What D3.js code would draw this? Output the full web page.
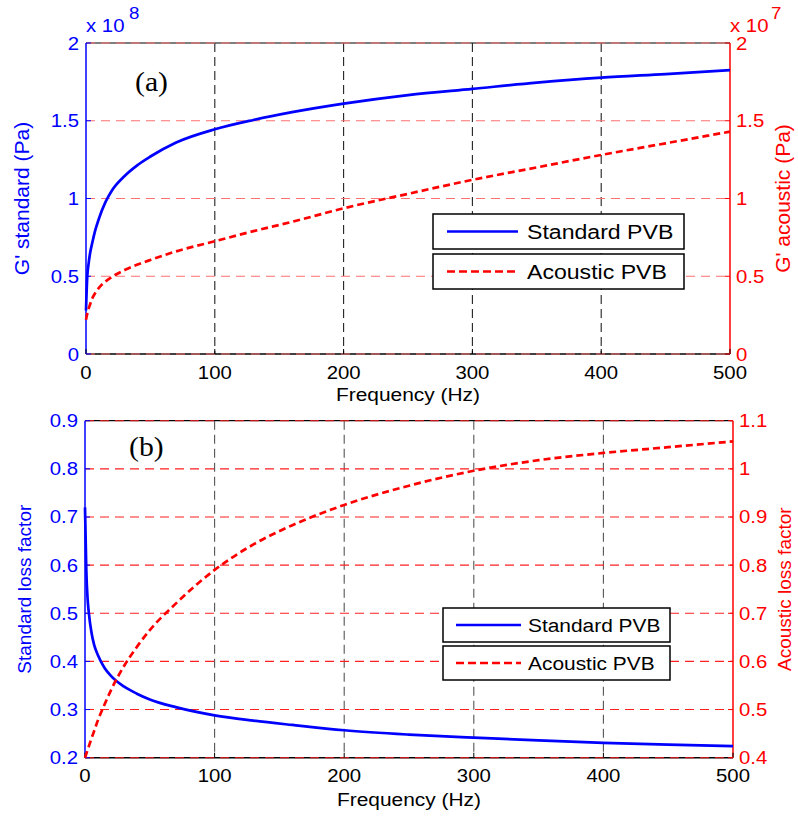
<!DOCTYPE html>
<html><head><meta charset="utf-8">
<script src="https://cdn.jsdelivr.net/npm/d3@7"></script>
<style>body{margin:0;background:#fff}svg{display:block}</style>
</head><body>
<svg id="c" width="798" height="816"></svg>
<script>
// ---------- data ----------
const freq = [0, 1, 2, 3, 5, 7, 10, 15, 20, 30, 40, 50, 70, 100, 130, 160, 200, 250, 300, 350, 400, 450, 500];
// panel (a): storage modulus, standard in units of 1e8 Pa, acoustic in units of 1e7 Pa
const gStandard = [0.28, 0.50, 0.58, 0.64, 0.72, 0.79, 0.87, 0.975, 1.05, 1.145, 1.215, 1.27, 1.36, 1.445, 1.505, 1.555, 1.61, 1.665, 1.705, 1.745, 1.777, 1.80, 1.825];
const gAcoustic = [0.22, 0.26, 0.29, 0.315, 0.36, 0.39, 0.425, 0.465, 0.495, 0.54, 0.575, 0.605, 0.66, 0.725, 0.79, 0.85, 0.937, 1.03, 1.12, 1.20, 1.28, 1.355, 1.43];
// panel (b): loss factors
const lossStandard = [0.72, 0.59, 0.53, 0.50, 0.46, 0.435, 0.413, 0.387, 0.37, 0.348, 0.333, 0.321, 0.305, 0.288, 0.277, 0.268, 0.257, 0.248, 0.2415, 0.236, 0.231, 0.227, 0.224];
const lossAcoustic = [0.40, 0.408, 0.416, 0.424, 0.44, 0.455, 0.478, 0.51, 0.54, 0.59, 0.63, 0.665, 0.72, 0.79, 0.843, 0.883, 0.925, 0.965, 0.996, 1.018, 1.033, 1.045, 1.057];

const xTicks = [0, 100, 200, 300, 400, 500];
const xGridTicks = [100, 200, 300, 400];
const gTicksLeft = [0, 0.5, 1, 1.5, 2];
const gTicksRight = [0, 0.5, 1, 1.5, 2];
const lossTicksLeft = [0.2, 0.3, 0.4, 0.5, 0.6, 0.7, 0.8, 0.9];
const lossTicksRight = [0.4, 0.5, 0.6, 0.7, 0.8, 0.9, 1, 1.1];
const seriesNames = ["Standard PVB", "Acoustic PVB"];

// ---------- drawing ----------
const BLUE = "#0000ff", RED = "#ff0000";
const svg = d3.select("#c");
svg.append("rect").attr("width", 798).attr("height", 816).attr("fill", "#fff");
const SX = 1.1; // horizontal stretch of the reference text

function htext(g, x, y, str, opt) {
  opt = opt || {};
  return g.append("text")
    .attr("transform", `translate(${x},${y}) scale(${SX},1)`)
    .attr("text-anchor", opt.anchor || "start")
    .attr("font-family", opt.family || "'Liberation Sans', Arial, sans-serif")
    .attr("font-size", opt.size || 18.5)
    .attr("fill", opt.fill || "#000")
    .text(str);
}
function vtext(g, x, y, str, opt) {
  return g.append("text")
    .attr("transform", `translate(${x},${y}) rotate(-90)`)
    .attr("text-anchor", "middle")
    .attr("font-family", "'Liberation Sans', Arial, sans-serif")
    .attr("font-size", opt.size)
    .attr("fill", opt.fill)
    .text(str);
}

function panel(c) {
  const g = svg.append("g");
  const x = d3.scaleLinear().domain([0, 500]).range([c.left, c.right]);
  const yL = d3.scaleLinear().domain(c.domL).range([c.bottom, c.top]);
  const yR = d3.scaleLinear().domain(c.domR).range([c.bottom, c.top]);

  g.append("line").attr("x1", c.left).attr("x2", c.right).attr("y1", c.bottom).attr("y2", c.bottom).attr("stroke", "#000").attr("stroke-width", 1.5);
  g.append("line").attr("x1", c.left).attr("x2", c.right).attr("y1", c.top).attr("y2", c.top).attr("stroke", "#000").attr("stroke-width", 1.2);

  g.selectAll(null).data(xGridTicks).join("line")
    .attr("x1", d => x(d)).attr("x2", d => x(d)).attr("y1", c.top).attr("y2", c.bottom)
    .attr("stroke", c.vGrid).attr("stroke-width", 1.1).attr("stroke-dasharray", "9,5");
  g.selectAll(null).data(c.ticksR).join("line")
    .attr("x1", c.left).attr("x2", c.right).attr("y1", d => yR(d)).attr("y2", d => yR(d))
    .attr("stroke", c.hGrid).attr("stroke-width", 1.1).attr("stroke-dasharray", "9,6");

  g.append("line").attr("x1", c.left).attr("x2", c.left).attr("y1", c.top).attr("y2", c.bottom).attr("stroke", BLUE).attr("stroke-width", 1.5);
  g.append("line").attr("x1", c.right).attr("x2", c.right).attr("y1", c.top).attr("y2", c.bottom).attr("stroke", RED).attr("stroke-width", 1.5);

  g.selectAll(null).data(xTicks).join("line")
    .attr("x1", d => x(d)).attr("x2", d => x(d)).attr("y1", c.bottom).attr("y2", c.bottom - 5)
    .attr("stroke", "#000").attr("stroke-width", 1);
  g.selectAll(null).data(c.ticksL).join("line")
    .attr("x1", c.left).attr("x2", c.left + 5).attr("y1", d => yL(d)).attr("y2", d => yL(d))
    .attr("stroke", BLUE).attr("stroke-width", 1);
  g.selectAll(null).data(c.ticksR).join("line")
    .attr("x1", c.right).attr("x2", c.right - 5).attr("y1", d => yR(d)).attr("y2", d => yR(d))
    .attr("stroke", RED).attr("stroke-width", 1);

  xTicks.forEach(d => htext(g, x(d), c.bottom + c.xLabPad, String(d), { anchor: "middle" }));
  c.ticksL.forEach(d => htext(g, c.left - 7, yL(d) + 6.5, String(d), { anchor: "end", fill: BLUE }));
  c.ticksR.forEach(d => htext(g, c.right + 6, yR(d) + 6.5, String(d), { anchor: "start", fill: RED }));

  const lineL = d3.line().x((d, i) => x(freq[i])).y(d => yL(d)).curve(d3.curveMonotoneX);
  const lineR = d3.line().x((d, i) => x(freq[i])).y(d => yR(d)).curve(d3.curveMonotoneX);
  g.append("path").attr("d", lineL(c.seriesL)).attr("fill", "none").attr("stroke", BLUE).attr("stroke-width", 2.7);
  g.append("path").attr("d", lineR(c.seriesR)).attr("fill", "none").attr("stroke", RED).attr("stroke-width", 2.7).attr("stroke-dasharray", "7,4");

  htext(g, (c.left + c.right) / 2, c.bottom + c.xTitlePad, "Frequency (Hz)", { anchor: "middle", size: 19 });
  vtext(g, c.yTitleLX, (c.top + c.bottom) / 2, c.titleL, { size: c.yTitleSize, fill: BLUE });
  vtext(g, c.yTitleRX, (c.top + c.bottom) / 2, c.titleR, { size: c.yTitleSize, fill: RED });

  htext(g, c.tagX, c.tagY, c.tag, { family: "'Liberation Serif', 'Times New Roman', serif", size: 27 });

  const L = c.legend;
  [0, 1].forEach(i => {
    const by = L.y + i * L.step;
    g.append("rect").attr("x", L.x).attr("y", by).attr("width", L.w).attr("height", L.h)
      .attr("fill", "#fff").attr("stroke", "#000").attr("stroke-width", 1.5);
    const ly = by + L.h / 2;
    g.append("line").attr("x1", L.x + L.l0).attr("x2", L.x + L.l1).attr("y1", ly).attr("y2", ly)
      .attr("stroke", i === 0 ? BLUE : RED).attr("stroke-width", 2.6)
      .attr("stroke-dasharray", i === 0 ? null : "8,4");
    htext(g, L.x + L.tx, ly + L.size * 0.36, seriesNames[i], { size: L.size });
  });
  return g;
}

const expG = svg.append("g");
htext(expG, 86, 32, "x 10", { fill: BLUE });
htext(expG, 129, 19, "8", { fill: BLUE, size: 17 });
htext(expG, 730, 32, "x 10", { fill: RED });
htext(expG, 771, 19, "7", { fill: RED, size: 17 });

panel({
  left: 86, right: 730, top: 43, bottom: 354,
  domL: [0, 2], domR: [0, 2], ticksL: gTicksLeft, ticksR: gTicksRight,
  seriesL: gStandard, seriesR: gAcoustic,
  vGrid: "#222", hGrid: "#ff7070",
  xLabPad: 25, xTitlePad: 47,
  titleL: "G' standard (Pa)", titleR: "G' acoustic (Pa)", yTitleLX: 29, yTitleRX: 790, yTitleSize: 21,
  tag: "(a)", tagX: 135, tagY: 91,
  legend: { x: 433, y: 214, w: 251, h: 35, step: 40, l0: 14, l1: 85, tx: 94, size: 21 }
});
panel({
  left: 85, right: 733, top: 420.7, bottom: 757.7,
  domL: [0.2, 0.9], domR: [0.4, 1.1], ticksL: lossTicksLeft, ticksR: lossTicksRight,
  seriesL: lossStandard, seriesR: lossAcoustic,
  vGrid: "#555", hGrid: "#ff2020",
  xLabPad: 24, xTitlePad: 48,
  titleL: "Standard loss factor", titleR: "Acoustic loss factor", yTitleLX: 31, yTitleRX: 791, yTitleSize: 19,
  tag: "(b)", tagX: 129, tagY: 456,
  legend: { x: 443, y: 608, w: 227, h: 34, step: 38, l0: 13, l1: 78, tx: 85, size: 19 }
});
</script>
</body></html>
